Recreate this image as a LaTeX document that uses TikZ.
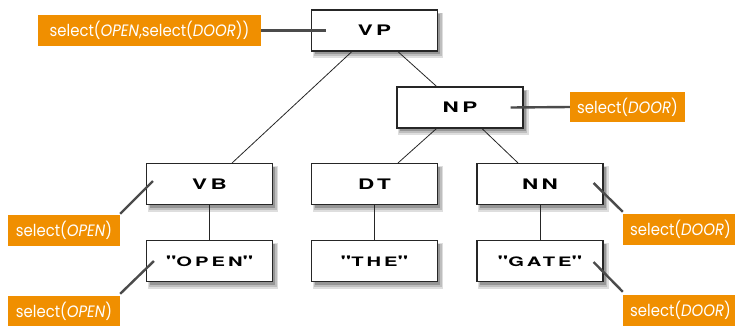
\documentclass[tikz,border=0pt]{standalone}
\usepackage{fontspec}
\usetikzlibrary{calc}
\newfontfamily\labelfont[FakeStretch=0.9]{Poppins}
\newfontfamily\boxfont[LetterSpace=15]{TeX Gyre Heros}
\definecolor{lblorange}{RGB}{240,143,0}
\definecolor{conngray}{RGB}{75,75,75}
\definecolor{shadowlight}{RGB}{222,222,222}
\definecolor{shadowmid}{RGB}{190,190,190}
\definecolor{shadowdark}{RGB}{150,150,150}
\newcommand{\bsz}{\fontsize{14.5}{14.5}\selectfont}
\newcommand{\ssz}{\fontsize{13}{13}\selectfont}
\newcommand{\bx}[1]{\scalebox{1.55}[1]{\boxfont\bfseries\bsz #1}}
\tikzset{
  treebox/.style={draw=black!85, line width=1.1pt, fill=white, minimum width=126pt, minimum height=41pt, inner sep=0pt},
  semlabel/.style={fill=lblorange, text=white, inner sep=0pt, minimum height=31pt, font=\labelfont\fontsize{16.5}{16.5}\selectfont},
  treeedge/.style={draw=black!85, line width=0.8pt},
  semconn/.style={draw=conngray, line width=2.4pt},
  shadowA/.style={fill=shadowlight},
  shadowM/.style={fill=shadowmid},
  shadowB/.style={fill=shadowdark}
}
\begin{document}
\begin{tikzpicture}[x=1pt,y=-1pt]
\useasboundingbox (0,0) rectangle (735,325);
\clip (0,0) rectangle (735,325);
% soft drop shadows (drawn first, under the boxes)
\foreach \cx/\cy in {374.5/30.5, 460/107.5, 209.5/184, 374.5/184, 540/184, 209.5/261, 374.5/261, 540/261}{
  \fill[shadowA] (\cx-62,\cy-18) rectangle (\cx+68.5,\cy+27.5);
  \fill[shadowM] (\cx-61,\cy-17.5) rectangle (\cx+67,\cy+25.5);
  \fill[shadowB] (\cx-60,\cy-17) rectangle (\cx+65.5,\cy+23.5);
}
% tree boxes
\node[treebox] (VP) at (374.5,30.5) {\bx{VP}};
\node[treebox] (NP) at (460,107.5) {\bx{NP}};
\node[treebox] (VB) at (209.5,184) {\bx{VB}};
\node[treebox] (DT) at (374.5,184) {\bx{DT}};
\node[treebox] (NN) at (540,184) {\bx{NN}};
\node[treebox] (OPEN) at (209.5,261) {\bx{"{\ssz OPEN}"}};
\node[treebox] (THE) at (374.5,261) {\bx{"{\ssz THE}"}};
\node[treebox] (GATE) at (540,261) {\bx{"{\ssz GATE}"}};
% tree edges
\draw[treeedge] (VP) -- (VB);
\draw[treeedge] (VP) -- (NP);
\draw[treeedge] (NP) -- (DT);
\draw[treeedge] (NP) -- (NN);
\draw[treeedge] (VB) -- (OPEN);
\draw[treeedge] (DT) -- (THE);
\draw[treeedge] (NN) -- (GATE);
% semantic labels
\node[semlabel, minimum width=223pt] (L1) at (149.5,30.5) {select(\textit{OPEN},select(\textit{DOOR}))};
\node[semlabel, minimum width=115pt, minimum height=30pt] (L2) at (627.5,107) {select(\textit{DOOR})};
\node[semlabel, minimum width=112pt] (L3) at (64,230.5) {select(\textit{OPEN})};
\node[semlabel, minimum width=112pt] (L4) at (64,311.5) {select(\textit{OPEN})};
\node[semlabel, minimum width=115pt] (L5) at (680.5,229.5) {select(\textit{DOOR})};
\node[semlabel, minimum width=115pt] (L6) at (680.5,310.5) {select(\textit{DOOR})};
% connector ends inside boxes
\coordinate (cVP) at ($(VP.west)+(15,0)$);
\coordinate (cNP) at ($(NP.east)+(-13,0)$);
\coordinate (cVB) at ($(VB.west)+(7,-3)$);
\coordinate (cOPEN) at ($(OPEN.west)+(8,0)$);
\coordinate (cNN) at ($(NN.east)+(-10,-1)$);
\coordinate (cGATE) at ($(GATE.east)+(-10,1)$);
\draw[semconn] (L1.east) -- (cVP);
\draw[semconn] (L2.west) -- (cNP);
\draw[semconn] ($(L3.north east)+(0,-1)$) -- (cVB);
\draw[semconn] ($(L4.north east)+(0,-2)$) -- (cOPEN);
\draw[semconn] ($(L5.north west)+(0,-2)$) -- (cNN);
\draw[semconn] ($(L6.north west)+(0,-3)$) -- (cGATE);
\end{tikzpicture}
\end{document}
